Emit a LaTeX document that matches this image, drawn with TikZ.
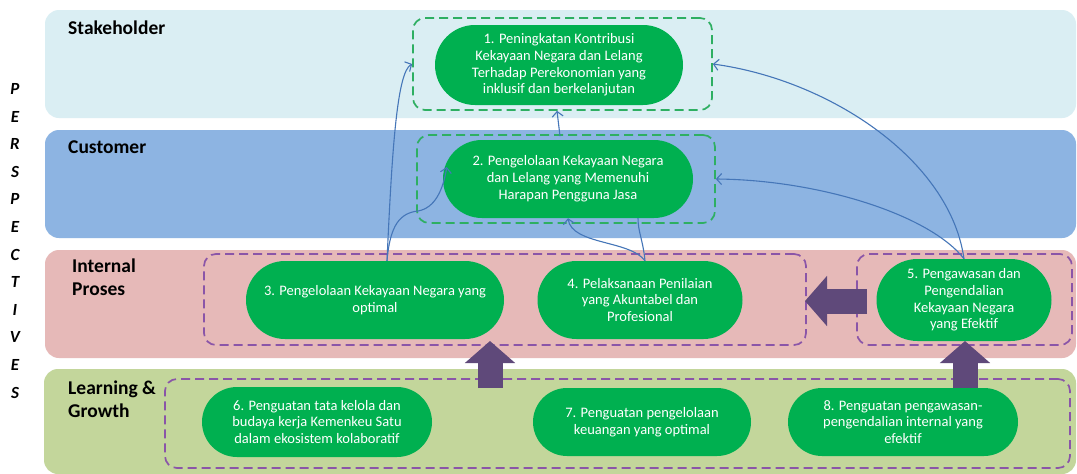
\documentclass[tikz,border=0pt]{standalone}
\usepackage{fontspec}
\setmainfont{Carlito}
\usetikzlibrary{shapes.misc,arrows.meta}
\definecolor{bandS}{HTML}{DAEEF3}
\definecolor{bandC}{HTML}{8DB4E2}
\definecolor{bandI}{HTML}{E6B9B8}
\definecolor{bandL}{HTML}{C3D69B}
\definecolor{pillc}{HTML}{00B050}
\definecolor{gdash}{HTML}{2EAF62}
\definecolor{pdash}{HTML}{8A55A8}
\definecolor{blk}{HTML}{5F497A}
\definecolor{lnk}{HTML}{4576B8}
\begin{document}
\begin{tikzpicture}[x=1pt,y=-1pt,
  band/.style={fill=#1,draw=none,rounded corners=14pt},
  pillnode/.style={rounded rectangle,fill=pillc,text=white,align=center,
    font=\fontsize{14.5}{16.8}\selectfont,inner sep=0pt},
  gbox/.style={draw=gdash,line width=1.7pt,dash pattern=on 9pt off 5pt,
    rounded corners=12pt,inner sep=0pt},
  pbox/.style={draw=pdash,line width=1.7pt,dash pattern=on 9pt off 5pt,
    rounded corners=12pt,inner sep=0pt},
  lbl/.style={font=\fontsize{19.5}{22.5}\selectfont\bfseries,anchor=west,align=left,inner sep=0pt},
  letter/.style={font=\fontsize{17}{17}\selectfont\bfseries\itshape,inner sep=0pt},
  link/.style={draw=lnk,line width=1.1pt,-{Straight Barb[length=5pt,width=11pt]}},
  plainlink/.style={draw=lnk,line width=1.1pt},
  fat/.style={draw=blk,line width=25pt,-{Triangle[length=22pt,width=49pt]}}]
\useasboundingbox (0,0) rectangle (1077,474);
\fill[white] (0,0) rectangle (1077,474);
% bands
\fill[band=bandS] (45,10) rectangle (1076,118);
\fill[band=bandC] (45,130) rectangle (1076,238);
\fill[band=bandI] (45,250) rectangle (1076,358);
\fill[band=bandL] (44,369) rectangle (1076,474);
% band labels
\node[lbl] (lS) at (68,28) {Stakeholder};
\node[lbl] (lC) at (68,147) {Customer};
\node[lbl] (lI) at (72,277) {Internal\\Proses};
\node[lbl] (lL) at (68,399) {Learning \&\\Growth};
% side letters
\foreach \ch [count=\i from 0] in {P,E,R,S,P,E,C,T,I,V,E,S}
  \node[letter] (s\i) at (15,89+27.6*\i) {\ch};
% dashed group boxes
\node[gbox,minimum width=299pt,minimum height=92pt] (b1) at (562.5,64) {};
\node[gbox,minimum width=298pt,minimum height=88pt] (b2) at (566,179) {};
\node[pbox,minimum width=602pt,minimum height=91pt] (b34) at (505,299.5) {};
\node[pbox,minimum width=215pt,minimum height=91pt] (b5) at (964.5,299.5) {};
\node[pbox,minimum width=905pt,minimum height=89pt] (bL) at (617.5,423.5) {};
% objective nodes
\node[pillnode,minimum width=248pt,minimum height=80pt] (n1) at (559,65)
  {1. Peningkatan Kontribusi\\Kekayaan Negara dan Lelang\\Terhadap Perekonomian yang\\inklusif dan berkelanjutan};
\node[pillnode,minimum width=250pt,minimum height=78pt] (n2) at (568,179)
  {2. Pengelolaan Kekayaan Negara\\dan Lelang yang Memenuhi\\Harapan Pengguna Jasa};
\node[pillnode,minimum width=258pt,minimum height=78pt] (n3) at (375,300)
  {3. Pengelolaan Kekayaan Negara yang\\optimal};
\node[pillnode,minimum width=205pt,minimum height=78pt] (n4) at (640,300)
  {4. Pelaksanaan Penilaian\\yang Akuntabel dan\\Profesional};
\node[pillnode,minimum width=175pt,minimum height=82pt] (n5) at (964,300)
  {5. Pengawasan dan\\Pengendalian\\Kekayaan Negara\\yang Efektif};
\node[pillnode,minimum width=230pt,minimum height=70pt] (n6) at (317,422)
  {6. Penguatan tata kelola dan\\budaya kerja Kemenkeu Satu\\dalam ekosistem kolaboratif};
\node[pillnode,minimum width=218pt,minimum height=68pt] (n7) at (642,422)
  {7. Penguatan pengelolaan\\keuangan yang optimal};
\node[pillnode,minimum width=230pt,minimum height=68pt] (n8) at (903,422)
  {8. Penguatan pengawasan-\\pengendalian internal yang\\efektif};
% thin links
\draw[link] ([xshift=12pt]n3.north) .. controls (392,150) and (397,72) .. (b1.west);
\draw[link] ([xshift=12pt]n3.north) .. controls (390,225) and (400,213) .. (418,211)
  .. controls (435,208) and (443,190) .. ([xshift=4pt,yshift=12pt]n2.west);
\draw[link] ([xshift=5pt]n4.north) .. controls (630,240) and (572,245) .. (n2.south);
\draw[plainlink] ([xshift=5pt]n4.north) .. controls (643,240) and (638,232) .. ([xshift=70pt]n2.south);
\draw[link] ([xshift=-6pt,yshift=-2pt]b2.north) -- ([xshift=-5.5pt]b1.south);
\draw[link] (n5.north) .. controls (950,160) and (830,80) .. (b1.east);
\draw[link] (n5.north) .. controls (930,215) and (820,180) .. (b2.east);
% fat arrows
\coordinate (u1s) at (490,388); \coordinate (u1e) at (490,341);
\coordinate (u2s) at (965,388); \coordinate (u2e) at (965,341);
\coordinate (ls) at (867,301);  \coordinate (le) at (805,301);
\draw[fat] (u1s) -- (u1e);
\draw[fat] (u2s) -- (u2e);
\draw[fat] (ls) -- (le);
\end{tikzpicture}
\end{document}
